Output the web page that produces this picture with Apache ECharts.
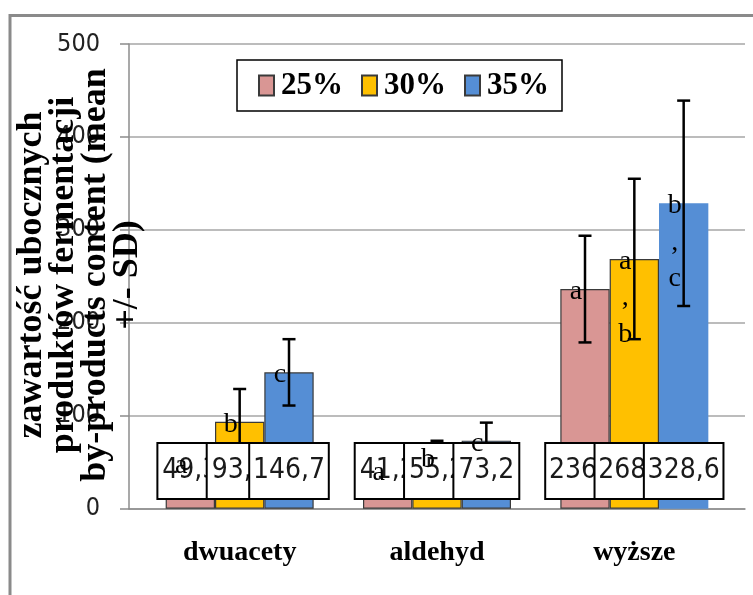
<!DOCTYPE html>
<html>
<head>
<meta charset="utf-8">
<script src="https://cdn.jsdelivr.net/npm/echarts@6/dist/echarts.min.js"></script>
<style>html,body{margin:0;padding:0;background:#fff;}#c{width:753px;height:595px;}</style>
</head>
<body>
<div id="c"></div>
<script>
const categories = ['dwuacety', 'aldehyd', 'wyższe'];
const seriesNames = ['25%', '30%', '35%'];
const values25 = [49.3, 41.2, 236.3];
const values30 = [93.6, 55.2, 268.7];
const values35 = [146.7, 73.2, 328.6];
const sd25 = [12, 9, 57.4];
const sd30 = [35.2, 17.9, 86.3];
const sd35 = [35.7, 19.4, 110.5];
const letters25 = ['a', 'a', 'a'];
const letters30 = ['b', 'b', 'a,b'];
const letters35 = ['c', 'c', 'b,c'];
const yMin = 0, yMax = 500, yStep = 100;
const yTitle = 'zawartość ubocznych\nproduktów fermentacji\nby-products content (mean\n+/- SD)';

const colors = ['#D99694', '#FFC000', '#558ED5'];
const allValues = [values25, values30, values35];
const allSd = [sd25, sd30, sd35];
const allLetters = [letters25, letters30, letters35];

// pick a narrow sans font if one is installed
const mctx = document.createElement('canvas').getContext('2d');
function measure(font, txt) { mctx.font = font; return mctx.measureText(txt).width; }
function hasFont(f) {
  const t = '146,7 abcWmi';
  return measure('30px monospace', t) !== measure('30px "' + f + '", monospace', t) ||
         measure('30px serif', t) !== measure('30px "' + f + '", serif', t);
}
const narrowCandidates = ['Liberation Sans Narrow', 'DejaVu Sans Condensed', 'Roboto Condensed', 'Open Sans Condensed', 'Arial Narrow'];
let sansFam = 'Liberation Sans';
for (const f of narrowCandidates) { if (hasFont(f)) { sansFam = f; break; } }
const sansStack = '"' + sansFam + '", "Liberation Sans", sans-serif';
const isNarrow = sansFam === 'Liberation Sans Narrow' || sansFam === 'Arial Narrow';
const labelSize = isNarrow ? 30 : 28;
const tickSize = isNarrow ? 27 : 25;

function fmt(v) { return String(v).replace('.', ','); }
// box inner width follows the narrow-font metrics of the original
function boxInnerWidth(s) {
  let w = 0;
  for (const ch of s) w += (ch === ',' ? 6.8 : 13.7);
  return w;
}

// item rows: [catIndex, value, sd, seriesIndex]
const rows = [];
categories.forEach((c, ci) => {
  for (let s = 0; s < 3; s++) rows.push([ci, allValues[s][ci], allSd[s][ci], s]);
});

function barCenterX(api, ci, s) {
  const c = api.coord([ci, 0]);
  const band = api.size([1, 0])[0];
  return c[0] + (s - 1) * band * 0.25;
}

const chart = echarts.init(document.getElementById('c'), null, {renderer: 'canvas'});
const PLOT_TOP = 44, PLOT_BOTTOM = 86.3;

const option = {
  animation: false,
  backgroundColor: '#fff',
  color: colors,
  grid: [
    {left: 129, right: 8, top: PLOT_TOP, bottom: PLOT_BOTTOM},
    {left: 141, right: 20, top: PLOT_TOP, bottom: PLOT_BOTTOM}
  ],
  xAxis: [
    {gridIndex: 0, type: 'value', min: 0, max: 1,
     axisLine: {show: true, lineStyle: {color: '#8c8c8c', width: 1.5}},
     axisTick: {show: false}, axisLabel: {show: false}, splitLine: {show: false}},
    {gridIndex: 1, type: 'category', data: categories,
     axisLine: {show: false}, axisTick: {show: false},
     axisLabel: {margin: 30, fontFamily: '"Liberation Serif", serif', fontWeight: 'bold', fontSize: 28, color: '#000'}}
  ],
  yAxis: [
    {gridIndex: 0, type: 'value', min: yMin, max: yMax, interval: yStep,
     axisLine: {show: true, lineStyle: {color: '#8c8c8c', width: 1.5}},
     axisTick: {show: true, length: 9, lineStyle: {color: '#8c8c8c', width: 1.5}},
     splitLine: {show: true, lineStyle: {color: '#a6a6a6', width: 1.5}},
     axisLabel: {margin: 29, fontFamily: sansStack, fontSize: tickSize, color: '#222'}},
    {gridIndex: 1, type: 'value', min: yMin, max: yMax, interval: yStep, show: false}
  ],
  legend: {
    data: seriesNames,
    left: 237, top: 60,
    padding: [10, 13, 10, 21],
    itemGap: 18, itemWidth: 15, itemHeight: 20,
    borderColor: '#000', borderWidth: 1.5,
    selectedMode: false,
    icon: 'rect',
    textStyle: {fontFamily: '"Liberation Serif", serif', fontWeight: 'bold', fontSize: 31, color: '#000', padding: [0, 0, 0, 2]}
  },
  graphic: [
    {type: 'rect', z: 100, silent: true,
     shape: {x: 10, y: 15.5, width: 800, height: 700},
     style: {fill: 'none', stroke: '#8a8a8a', lineWidth: 3}},
    {type: 'text', z: 1, silent: true, x: 79.5, y: 275, rotation: Math.PI / 2,
     style: {text: yTitle, align: 'center', verticalAlign: 'middle', lineHeight: 32,
             font: 'bold 36px "Liberation Serif", serif', fill: '#000'}}
  ],
  series: [
    ...seriesNames.map((name, s) => ({
      name: name, type: 'bar', xAxisIndex: 1, yAxisIndex: 1, z: 2,
      barWidth: '25%', barGap: '0%',
      itemStyle: {color: colors[s], borderColor: '#3a3a3a', borderWidth: 1.2},
      data: allValues[s].map((v, i) => (s === 2 && i === 2) ? {value: v, itemStyle: {borderWidth: 0}} : v)
    })),
    {
      name: 'sd', type: 'custom', xAxisIndex: 1, yAxisIndex: 1, z: 3, silent: true,
      encode: {x: 0, y: 1},
      data: rows,
      renderItem: function (params, api) {
        const ci = api.value(0), v = api.value(1), e = api.value(2), s = api.value(3);
        const x = barCenterX(api, ci, s);
        const yt = api.coord([ci, v + e])[1];
        const yb = api.coord([ci, v - e])[1];
        const st = {stroke: '#000', lineWidth: 2.5};
        return {type: 'group', children: [
          {type: 'line', shape: {x1: x, y1: yt, x2: x, y2: yb}, style: st},
          {type: 'line', shape: {x1: x - 6.5, y1: yt, x2: x + 6.5, y2: yt}, style: st},
          {type: 'line', shape: {x1: x - 6.5, y1: yb, x2: x + 6.5, y2: yb}, style: st}
        ]};
      }
    },
    {
      name: 'labels', type: 'custom', xAxisIndex: 1, yAxisIndex: 1, z: 4, silent: true,
      encode: {x: 0, y: 1},
      data: rows,
      renderItem: function (params, api) {
        const ci = api.value(0), v = api.value(1), s = api.value(3);
        const x = barCenterX(api, ci, s);
        const y0 = api.coord([ci, 0])[1];
        const t = fmt(v);
        return {type: 'text', x: x, y: y0 - 37.7, style: {
          text: t, align: 'center', verticalAlign: 'middle',
          width: boxInnerWidth(t),
          font: labelSize + 'px ' + sansStack,
          fill: '#1a1a1a', lineHeight: 30,
          backgroundColor: '#fff', borderColor: '#000', borderWidth: 2,
          padding: [12, 8, 12, 8]
        }};
      }
    },
    {
      name: 'letters', type: 'custom', xAxisIndex: 1, yAxisIndex: 1, z: 5, silent: true,
      encode: {x: 0, y: 1},
      data: rows,
      renderItem: function (params, api) {
        const ci = api.value(0), v = api.value(1), s = api.value(3);
        const x = barCenterX(api, ci, s) - 9;
        const yTop = api.coord([ci, v])[1];
        const txt = allLetters[s][ci].split('').join('\n');
        return {type: 'text', x: x, y: yTop - 15.6, style: {
          text: txt, align: 'center', verticalAlign: 'top', lineHeight: 36.5,
          font: '28px "Liberation Serif", serif', fill: '#000'
        }};
      }
    }
  ]
};
chart.setOption(option);
</script>
</body>
</html>
